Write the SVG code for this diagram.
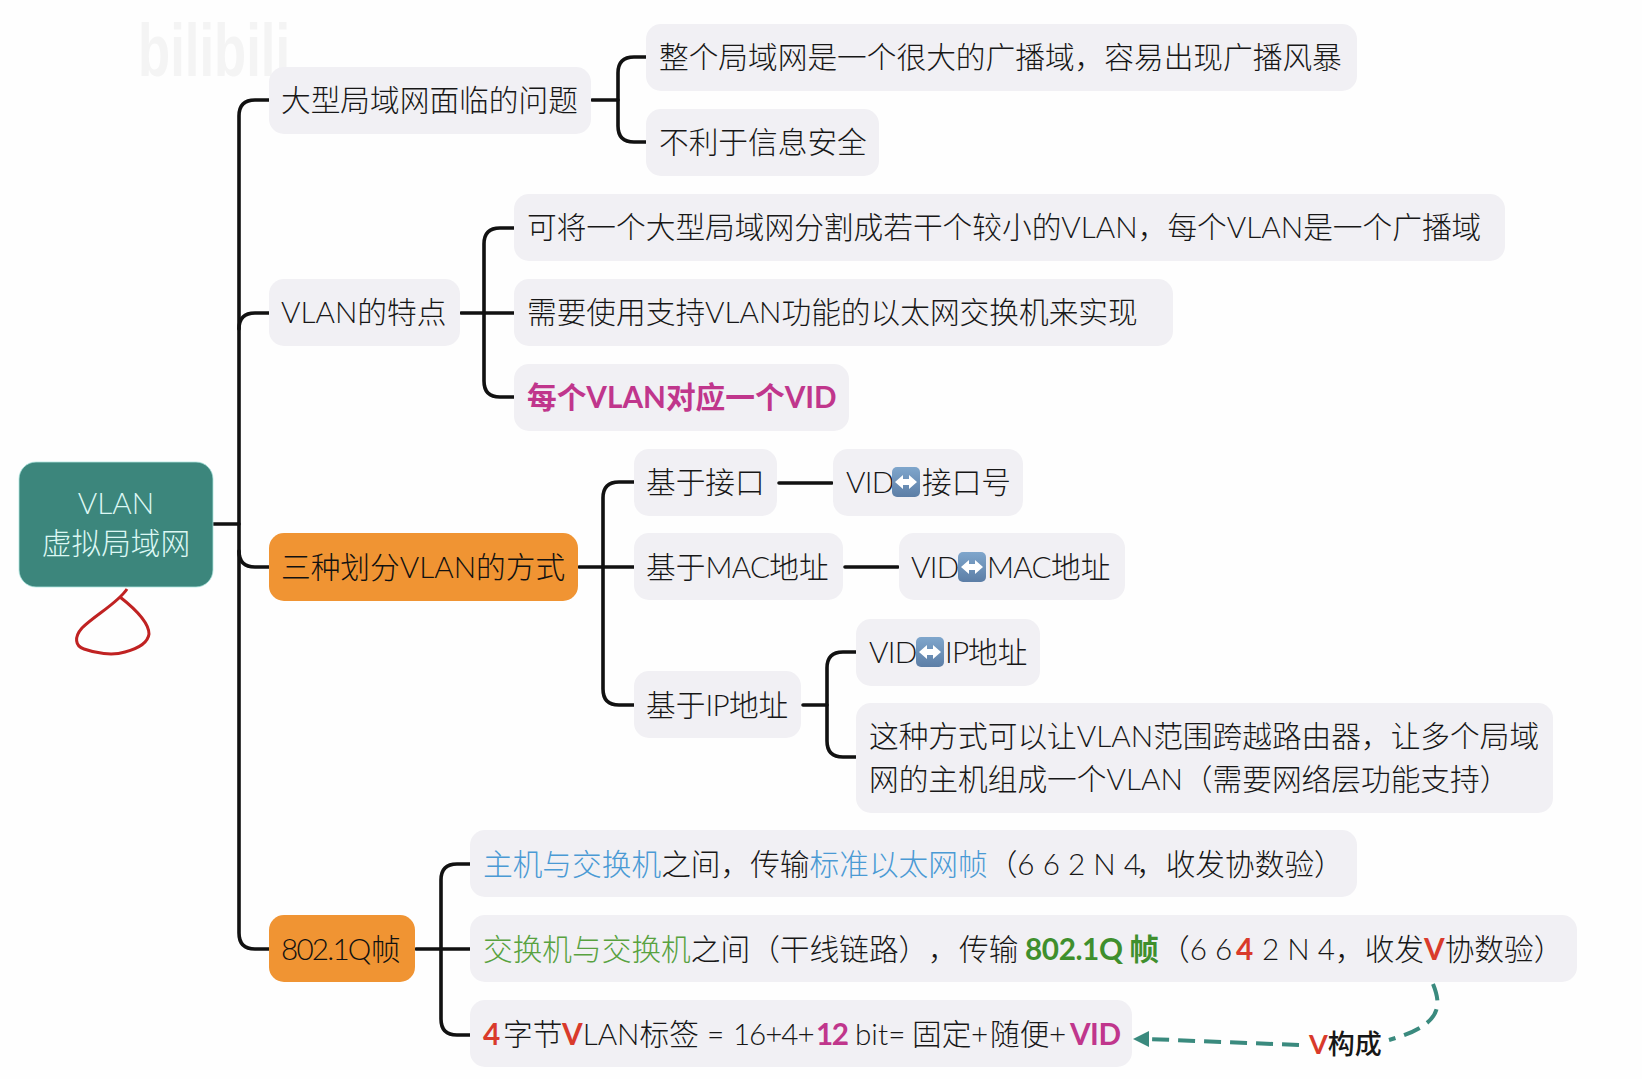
<svg xmlns="http://www.w3.org/2000/svg" width="1642" height="1079" viewBox="0 0 1642 1079">
<style>
text{font-family:"Lato","Noto Sans CJK SC",sans-serif;font-size:29.7px;fill:#171717;white-space:pre;font-weight:300}
.box{fill:#f1f0f4}
.org{fill:#f09433}
.ln{fill:none;stroke:#111;stroke-width:3.6;stroke-linecap:round}
.b{fill:#4a9ad4}.g{fill:#58a23f}.gb{fill:#3f8f2d;font-weight:700}.r{fill:#d93a2b;font-weight:700}.p{fill:#c0368c;font-weight:700}
.o{fill:#111}
.t{letter-spacing:-0.7px}
</style>
<defs>
<linearGradient id="eg" x1="0" y1="0" x2="0" y2="1"><stop offset="0" stop-color="#7fa6cc"/><stop offset="1" stop-color="#5c7ea6"/></linearGradient>
<g id="sw"><rect width="28" height="30" rx="5" fill="url(#eg)"/><path d="M3,15 L11,8 V12 H17 V8 L25,15 L17,22 V18 H11 V22 Z" fill="#fff"/></g>
</defs>
<rect width="1642" height="1079" fill="#fefefe"/>
<text x="138" y="76" style="font-family:'Liberation Sans',sans-serif;font-size:74px;font-weight:700;fill:#f4f4f4" textLength="152" lengthAdjust="spacingAndGlyphs">bilibili</text>

<g id="connectors">
<path class="ln" d="M213,524 H239"/>
<path class="ln" d="M269,100 H255 Q239,100 239,116 V933 Q239,949 255,949 H269"/>
<path class="ln" d="M269,313 H255 Q239,313 239,329"/>
<path class="ln" d="M269,567 H255 Q239,567 239,551"/>
<path class="ln" d="M592,100 H618"/>
<path class="ln" d="M646,57 H634 Q618,57 618,73 V126 Q618,142 634,142 H646"/>
<path class="ln" d="M461,313 H514"/>
<path class="ln" d="M514,228 H500 Q484,228 484,244 V381 Q484,397 500,397 H514"/>
<path class="ln" d="M579,567 H634"/>
<path class="ln" d="M634,482 H619 Q603,482 603,498 V689 Q603,705 619,705 H634"/>
<path class="ln" d="M779,483 H832"/>
<path class="ln" d="M845,567 H898"/>
<path class="ln" d="M803,705 H827"/>
<path class="ln" d="M856,652 H843 Q827,652 827,668 V741 Q827,757 843,757 H856"/>
<path class="ln" d="M416,949 H470"/>
<path class="ln" d="M470,864 H457 Q441,864 441,880 V1019 Q441,1035 457,1035 H470"/>
<g fill="none" stroke="#3a8a7e" stroke-width="4">
<path stroke-dasharray="17 9" d="M1433,984 C1442,1006 1440,1022 1402,1036 L1389,1040"/>
<path stroke-dasharray="17 9" d="M1299,1045 L1147,1039"/>
</g>
<path d="M1133,1039 L1149,1031 L1149,1047 Z" fill="#3a8a7e"/>
<path d="M127,589 C118,603 95,615 82,628 C74,637 75,646 84,649 C95,653 112,656 125,652 C140,648 148,642 149,634 C149,622 134,608 120,597" fill="none" stroke="#c02222" stroke-width="3"/>
</g>

<g id="root"><rect x="19" y="462" width="194" height="125" rx="17" fill="#3c867c" stroke="#aee6e0" stroke-width="0.8"/>
<text x="116" y="514" text-anchor="middle" style="fill:#dcf8f4">VLAN</text>
<text x="116" y="554" text-anchor="middle" style="fill:#dcf8f4">虚拟局域网</text></g>

<g id="n1"><rect class="box" x="269" y="67" width="322" height="67" rx="15"/><text x="281" y="111">大型局域网面临的问题</text></g>
<g id="n11"><rect class="box" x="646" y="24" width="711" height="67" rx="15"/><text x="659" y="68">整个局域网是一个很大的广播域，容易出现广播风暴</text></g>
<g id="n12"><rect class="box" x="646" y="109" width="233" height="67" rx="15"/><text x="659" y="153">不利于信息安全</text></g>

<g id="n2"><rect class="box" x="269" y="279" width="191" height="67" rx="15"/><text x="281" y="323">VLAN的特点</text></g>
<g id="n21"><rect class="box" x="514" y="194" width="991" height="67" rx="15"/><text x="527" y="238">可将一个大型局域网分割成若干个较小的VLAN，每个VLAN是一个广播域</text></g>
<g id="n22"><rect class="box" x="514" y="279" width="659" height="67" rx="15"/><text x="527" y="323">需要使用支持VLAN功能的以太网交换机来实现</text></g>
<g id="n23"><rect class="box" x="514" y="364" width="335" height="67" rx="15"/><text x="527" y="408" class="p">每个VLAN对应一个VID</text></g>

<g id="n3"><rect class="org" x="269" y="533" width="309" height="68" rx="15"/><text x="281" y="578" class="o">三种划分VLAN的方式</text></g>
<g id="n31"><rect class="box" x="634" y="449" width="143" height="67" rx="15"/><text x="646" y="493">基于接口</text></g>
<g id="n311"><rect class="box" x="833" y="449" width="190" height="67" rx="15"/><text x="846" y="493" class="t">VID</text><use href="#sw" x="892" y="467"/><text x="922" y="493">接口号</text></g>
<g id="n32"><rect class="box" x="634" y="533" width="209" height="67" rx="15"/><text x="646" y="578">基于<tspan class="t">MAC</tspan>地址</text></g>
<g id="n321"><rect class="box" x="899" y="533" width="226" height="67" rx="15"/><text x="911" y="578" class="t">VID</text><use href="#sw" x="958" y="552"/><text x="987" y="578" class="t">MAC<tspan x="1051" style="letter-spacing:0">地址</tspan></text></g>
<g id="n33"><rect class="box" x="634" y="671" width="167" height="67" rx="15"/><text x="646" y="716">基于<tspan class="t">IP</tspan>地址</text></g>
<g id="n331"><rect class="box" x="856" y="619" width="184" height="67" rx="15"/><text x="869" y="663" class="t">VID</text><use href="#sw" x="916" y="637"/><text x="945" y="663" class="t">IP<tspan x="968" style="letter-spacing:0">地址</tspan></text></g>
<g id="n332"><rect class="box" x="856" y="703" width="697" height="110" rx="15"/><text x="869" y="747">这种方式可以让VLAN范围跨越路由器，让多个局域</text><text x="869" y="790">网的主机组成一个VLAN（需要网络层功能支持）</text></g>

<g id="n4"><rect class="org" x="269" y="915" width="146" height="67" rx="15"/><text x="281" y="960" class="o"><tspan style="letter-spacing:-1.8px">802.1Q</tspan><tspan x="371">帧</tspan></text></g>
<g id="n41"><rect class="box" x="470" y="830" width="887" height="67" rx="15"/><text x="483" y="875"><tspan class="b">主机与交换机</tspan>之间，传输<tspan class="b">标准以太网帧</tspan>（6 6 2 N 4<tspan x="1136">，收发协数验）</tspan></text></g>
<g id="n42"><rect class="box" x="470" y="915" width="1107" height="67" rx="15"/><text x="483" y="960"><tspan class="g">交换机与交换机</tspan>之间（干线链路）<tspan x="928">，</tspan><tspan x="959">传输</tspan><tspan x="1025" class="gb" style="letter-spacing:-0.4px">802.1Q 帧</tspan><tspan x="1160">（6 6</tspan><tspan x="1236" class="r">4</tspan><tspan x="1262">2 N 4，收发</tspan><tspan class="r">V</tspan>协数验）</text></g>
<g id="n43"><rect class="box" x="470" y="1000" width="662" height="67" rx="15"/><text x="483" y="1045"><tspan class="r">4</tspan><tspan x="503">字节</tspan><tspan x="562" class="r">V</tspan>LAN标签 = <tspan x="733" style="letter-spacing:-1.1px">16+4+</tspan><tspan x="816" class="p" style="letter-spacing:-1.5px">12</tspan><tspan x="855">bit=</tspan><tspan x="912">固定</tspan><tspan x="971">+</tspan><tspan x="990">随便</tspan><tspan x="1049">+</tspan><tspan x="1070" class="p" style="letter-spacing:-0.5px">VID</tspan></text></g>

<g id="lbl"><text x="1309" y="1054" style="font-size:27px;font-weight:500"><tspan class="r">V</tspan>构成</text></g>
</svg>
